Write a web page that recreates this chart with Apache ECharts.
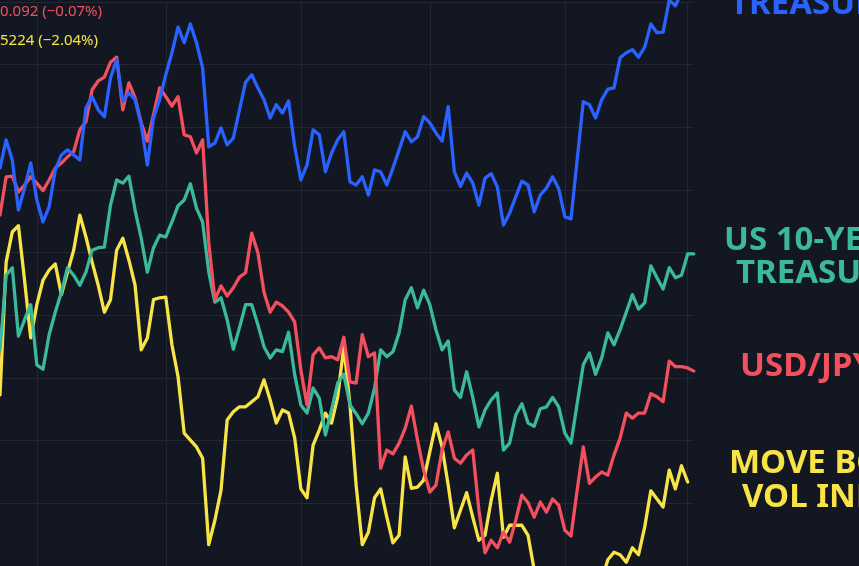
<!DOCTYPE html>
<html>
<head>
<meta charset="utf-8">
<script src="https://cdn.jsdelivr.net/npm/echarts@6/dist/echarts.min.js"></script>
<style>
  html, body { margin: 0; padding: 0; background: #131722; }
  #chart { width: 859px; height: 566px; }
</style>
</head>
<body>
<div id="chart"></div>
<script>
// Relative performance (index units)
const us2y = [63.5,68.0,64.8,56.8,60.3,64.3,58.4,54.9,57.3,63.2,65.6,66.4,65.6,64.8,73.1,74.9,72.8,71.7,77.9,80.8,
  74.1,75.5,74.4,70.4,64.0,71.5,74.4,78.4,81.9,86.0,83.5,86.5,83.5,79.5,66.9,67.5,69.9,67.2,68.3,72.8,
  77.2,78.4,76.3,74.4,71.5,73.6,72.3,74.2,66.9,61.6,64.0,69.6,68.8,62.9,65.9,68.0,69.3,61.3,60.8,62.1,
  59.2,63.2,62.9,60.8,63.5,66.4,69.3,67.7,68.5,71.7,70.7,69.1,67.8,73.3,62.9,60.6,62.7,61.1,57.6,61.9,
  62.6,60.5,54.4,56.3,58.9,61.4,60.8,56.5,59.2,60.3,62.1,60.2,55.7,55.4,64.8,74.1,73.6,71.5,74.4,76.1,
  76.3,81.1,81.9,82.4,81.2,82.8,86.5,85.1,85.2,90.3,89.4,91.6,92.7,93.5];

const us10y = [34.5,46.4,47.6,36.7,39.3,41.7,32.1,31.4,36.9,40.5,43.7,47.6,46.4,44.8,46.9,50.4,50.8,50.9,57.6,61.6,
  61.1,62.2,56.8,52.3,46.9,50.8,52.8,52.5,54.9,57.5,58.4,61.0,57.1,54.9,46.9,42.1,42.8,39.3,34.6,38.0,
  41.7,41.7,38.5,35.0,33.2,34.5,34.2,37.3,30.5,25.7,24.4,28.4,26.8,20.9,24.9,29.2,30.6,25.7,24.3,22.7,
  24.4,28.4,34.5,33.4,34.2,37.2,42.5,44.4,41.2,44.0,41.7,37.7,34.5,35.9,28.1,26.9,31.0,26.9,22.2,24.9,
  26.5,27.6,18.5,19.6,24.1,25.9,22.8,22.3,25.1,25.4,26.9,25.4,21.2,19.6,25.9,32.1,34.0,30.6,33.2,37.2,
  35.3,37.7,40.5,43.3,41.0,42.0,47.9,46.0,44.2,47.6,46.0,46.4,49.8,49.8];

const usdjpy = [56.0,62.1,62.2,59.7,60.8,62.1,61.1,59.9,61.6,63.5,64.3,65.3,66.1,69.6,70.9,76.0,77.4,78.0,80.4,81.2,
  72.8,77.1,74.7,70.7,67.8,72.0,76.3,74.9,73.4,74.9,68.8,68.5,65.9,68.0,51.6,42.5,44.7,43.1,44.4,46.1,
  46.8,53.1,50.0,43.7,40.5,42.1,41.5,40.5,38.9,31.3,25.7,33.7,34.8,33.2,33.4,32.9,36.5,29.4,29.2,36.9,
  33.4,34.0,15.6,18.5,17.9,19.6,22.0,25.5,20.1,15.3,11.8,12.9,18.5,21.4,17.2,16.4,17.7,18.5,8.9,2.1,
  4.1,2.9,5.4,3.8,7.3,11.3,10.1,7.8,10.2,8.6,10.7,9.7,5.7,4.8,12.1,19.0,13.2,14.2,15.0,14.5,
  17.7,20.4,24.4,23.6,24.4,24.4,27.5,27.0,26.2,32.7,31.8,31.8,31.6,31.1];

const moveIndex = [27.3,48.5,53.3,54.3,45.6,36.4,41.7,45.6,47.2,48.2,43.3,46.9,50.4,56.0,52.5,48.5,44.8,40.5,42.5,50.4,
  52.3,48.8,44.8,34.5,36.4,42.5,42.8,42.9,35.3,30.2,21.2,20.1,19.0,17.2,3.4,7.3,12.1,23.3,24.6,25.4,
  25.4,26.2,27.0,29.7,26.5,22.8,24.9,24.4,20.4,12.3,10.9,19.3,21.7,24.4,22.8,27.0,35.0,25.7,12.9,3.4,
  5.4,10.9,12.3,7.8,3.7,4.9,17.4,12.4,12.6,13.7,18.2,22.7,19.0,12.9,6.1,8.9,11.7,7.8,4.1,4.9,
  10.5,14.8,4.6,6.5,6.5,6.5,4.9,-0.6,-5.4,-8.6,-10.2,-11.8,-11.8,-11.8,-10.2,-8.6,-7.0,-4.6,-2.2,1.0,
  2.2,1.8,0.6,2.9,1.8,6.2,12.0,10.7,9.4,15.3,12.3,16.0,13.4,null];

// Trading-day categories and month boundaries (vertical grid lines)
const days = us2y.map((_, i) => 'D' + (i + 1));
const monthStarts = [6, 27, 49, 70, 92, 112];

// Quote texts at the top-left and right-side series labels
const quoteJpy = '0.092 (\u22120.07%)';
const quoteMove = '5224 (\u22122.04%)';

const C_BLUE = '#2962ff', C_GREEN = '#3bb99c', C_RED = '#f2505e', C_YELLOW = '#f8e447';

const chart = echarts.init(document.getElementById('chart'), null, { renderer: 'canvas' });

function lineSeries(name, data, color, z) {
  return {
    name, type: 'line', data, showSymbol: false, symbol: 'none', clip: false, z,
    lineStyle: { color, width: 3.3, join: 'round', cap: 'round' },
    itemStyle: { color },
    emphasis: { disabled: true },
    animation: false
  };
}

const labelFont = 'bold 33px "Noto Sans", "Open Sans", sans-serif';
function label(text, x, y, color) {
  return { type: 'text', x, y, silent: true, z: 100,
    style: { text, fill: color, font: labelFont, textAlign: 'left', textVerticalAlign: 'middle' } };
}
function quote(text, x, y, color) {
  return { type: 'text', x, y, silent: true, z: 100,
    style: { text, fill: color, font: '15px "Noto Sans", "Open Sans", sans-serif', textAlign: 'left', textVerticalAlign: 'middle' } };
}

chart.setOption({
  backgroundColor: '#131722',
  animation: false,
  grid: { left: -1.15, right: 165.2, top: 2, bottom: 0, containLabel: false },
  xAxis: {
    type: 'category', data: days, boundaryGap: false,
    axisLine: { show: false }, axisTick: { show: false }, axisLabel: { show: false },
    splitLine: { show: true, interval: (idx) => monthStarts.includes(idx),
      lineStyle: { color: '#232733', width: 1 } }
  },
  yAxis: {
    type: 'value', min: 0, max: 90, interval: 10,
    axisLine: { show: false }, axisTick: { show: false }, axisLabel: { show: false },
    splitLine: { show: true, lineStyle: { color: '#232733', width: 1 } }
  },
  series: [
    lineSeries('MOVE Bond Vol Index', moveIndex, C_YELLOW, 2),
    lineSeries('US 10-Year Treasury', us10y, C_GREEN, 3),
    lineSeries('USD/JPY', usdjpy, C_RED, 4),
    lineSeries('US 2-Year Treasury', us2y, C_BLUE, 5)
  ],
  graphic: [
    quote(quoteJpy, 0, 12, C_RED),
    quote(quoteMove, 0, 41, C_YELLOW),
    label('TREASURY', 730, 5, C_BLUE),
    label('US 10-YEAR', 724, 241, C_GREEN),
    label('TREASURY', 736, 274, C_GREEN),
    label('USD/JPY', 740, 367, C_RED),
    label('MOVE BOND', 729, 464, C_YELLOW),
    label('VOL INDEX', 742, 498, C_YELLOW)
  ]
});
</script>
</body>
</html>
